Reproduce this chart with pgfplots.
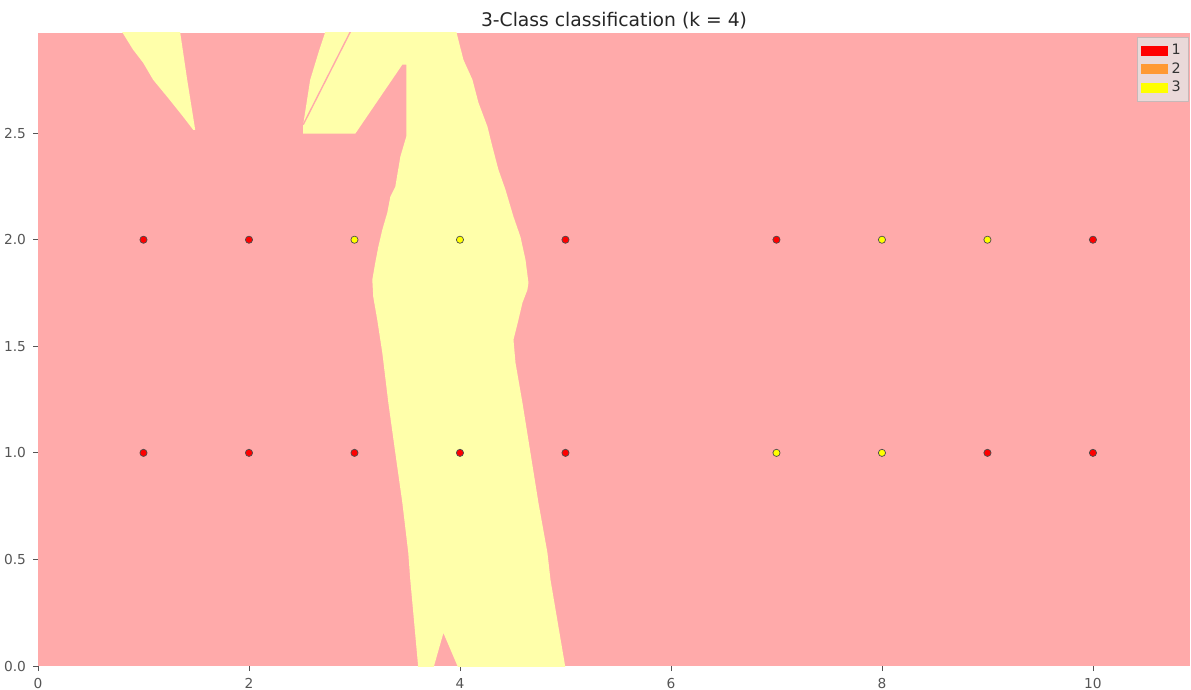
\documentclass[border=0pt]{standalone}
\usepackage{pgfplots}
\pgfplotsset{compat=1.18}
\usepackage{fontspec}
\setmainfont{DejaVu Sans}
\definecolor{bgpink}{RGB}{255,170,170}
\definecolor{bgyellow}{RGB}{255,255,170}
\definecolor{ptred}{RGB}{255,0,0}
\definecolor{ptyellow}{RGB}{255,255,0}
\definecolor{legorange}{RGB}{255,153,51}
\definecolor{leggray}{RGB}{234,217,217}
\definecolor{tickgray}{RGB}{85,85,85}
\begin{document}
\begin{tikzpicture}
\begin{axis}[
  scale only axis,
  width=576bp, height=316.5bp,
  xmin=0, xmax=10.92, ymin=0, ymax=2.97,
  axis line style={draw=none},
  axis background/.style={fill=bgpink},
  xtick={0,2,4,6,8,10},
  ytick={0,0.5,1,1.5,2,2.5},
  yticklabel style={/pgf/number format/.cd,fixed,fixed zerofill,precision=1},
  /pgf/number format/assume math mode=true,
  tick align=outside,
  major tick length=2.5bp,
  tick style={tickgray, line width=0.4bp},
  xtick pos=bottom, ytick pos=left,
  ticklabel style={font=\fontsize{6.9}{8}\selectfont, text=tickgray},
  title={3-Class classification (k = 4)},
  title style={font=\fontsize{9.4}{11}\selectfont, text=black!85, at={(0.5,1)}, anchor=base, yshift=-2.8bp},
  legend style={at={(0.9985,0.994)}, anchor=north east, fill=leggray, draw=leggray!85!black, line width=0.3bp,
    font=\fontsize{7.2}{8}\selectfont, row sep=-1.6bp, inner sep=1.6bp, text=black!80},
  legend cell align=left,
  legend image code/.code={\fill[#1, draw=none] (0bp,-2.5bp) rectangle (13.5bp,2.5bp);},
  clip=true,
]
% main yellow region
\addplot[fill=bgyellow, draw=none, forget plot] coordinates {
 (2.723,2.975) (3.966,2.975)
 (4.032,2.845) (4.118,2.751) (4.175,2.643) (4.260,2.531) (4.307,2.437)
 (4.364,2.329) (4.431,2.235) (4.507,2.108) (4.573,2.014) (4.621,1.906)
 (4.649,1.798) (4.639,1.765) (4.592,1.704) (4.554,1.624) (4.507,1.531)
 (4.526,1.423) (4.592,1.235) (4.668,1.0) (4.744,0.765) (4.829,0.531)
 (4.858,0.404) (5.0,-0.01)
 (3.985,-0.01) (3.843,0.155) (3.748,-0.01) (3.605,-0.01)
 (3.529,0.404) (3.510,0.531) (3.454,0.765) (3.387,1.0) (3.321,1.235)
 (3.264,1.469) (3.216,1.624) (3.178,1.732) (3.169,1.812) (3.197,1.892)
 (3.226,1.967) (3.264,2.047) (3.311,2.127) (3.340,2.202) (3.387,2.249)
 (3.435,2.390) (3.491,2.484) (3.491,2.822) (3.454,2.822) (3.008,2.498)
 (2.514,2.498) (2.514,2.540) (2.580,2.75) (2.660,2.88)
} --cycle;
% thin pink line inside upper-left wedge
\addplot[draw=bgpink, line width=0.7bp, forget plot] coordinates {(2.960,2.975) (2.514,2.540)};
% small upper-left triangle
\addplot[fill=bgyellow, draw=none, forget plot] coordinates {
 (0.797,2.975) (1.347,2.975) (1.414,2.751) (1.490,2.516) (1.471,2.516)
 (1.376,2.577) (1.224,2.671) (1.091,2.751) (0.996,2.831) (0.901,2.892)
} --cycle;
% points
\addplot[only marks, mark=*, mark size=1.8bp, mark options={fill=ptred, draw=black!70, line width=0.35bp}, forget plot]
 coordinates {(1,2) (2,2) (5,2) (7,2) (10,2) (1,1) (2,1) (3,1) (4,1) (5,1) (9,1) (10,1)};
\addplot[only marks, mark=*, mark size=1.8bp, mark options={fill=ptyellow, draw=black!70, line width=0.35bp}, forget plot]
 coordinates {(3,2) (4,2) (8,2) (9,2) (7,1) (8,1)};
\addlegendimage{fill=ptred}
\addlegendentry{1}
\addlegendimage{fill=legorange}
\addlegendentry{2}
\addlegendimage{fill=ptyellow}
\addlegendentry{3}
\end{axis}
\pgfresetboundingbox
\path[use as bounding box] (-19bp,-12bp) rectangle (576.5bp,333bp);
\end{tikzpicture}
\end{document}
